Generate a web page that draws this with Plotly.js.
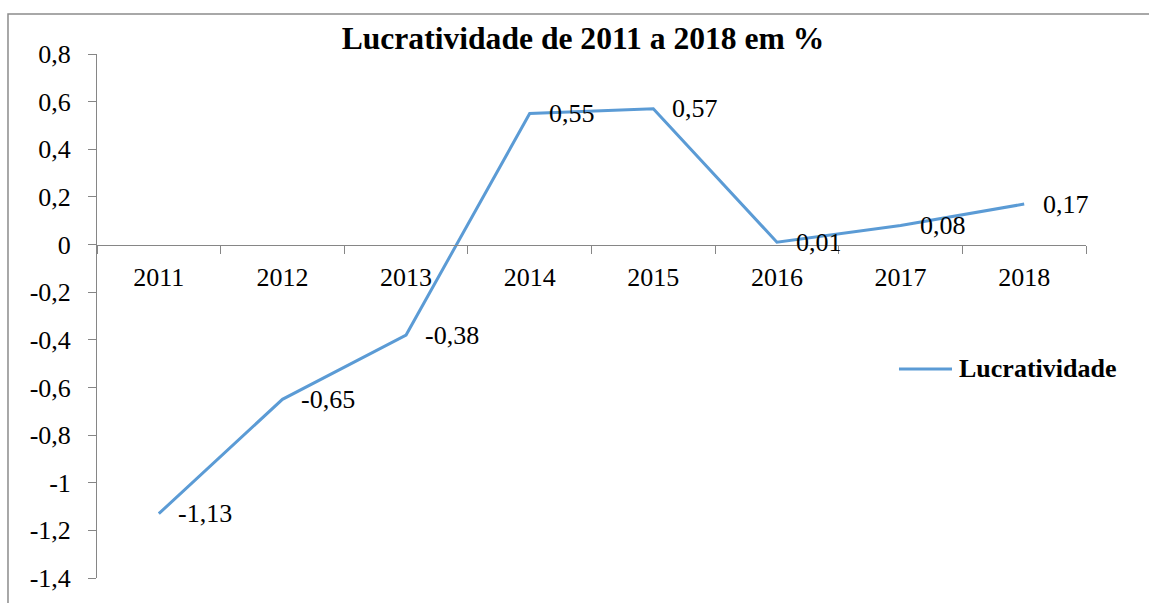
<!DOCTYPE html>
<html>
<head>
<meta charset="utf-8">
<script src="https://cdn.plot.ly/plotly-3.0.1.min.js"></script>
<style>
  html, body { margin: 0; padding: 0; background: #fff; }
  #chart { width: 1149px; height: 603px; }
</style>
</head>
<body>
<div id="chart"></div>
<script>
// ---- data ----
const years = ["2011", "2012", "2013", "2014", "2015", "2016", "2017", "2018"];
const lucratividade = [-1.13, -0.65, -0.38, 0.55, 0.57, 0.01, 0.08, 0.17];
const seriesName = "Lucratividade";
const chartTitle = "Lucratividade de 2011 a 2018 em %";
const yTickVals = [0.8, 0.6, 0.4, 0.2, 0, -0.2, -0.4, -0.6, -0.8, -1, -1.2, -1.4];
const yTickText = ["0,8", "0,6", "0,4", "0,2", "0", "-0,2", "-0,4", "-0,6", "-0,8", "-1", "-1,2", "-1,4"];

// ---- styles ----
const serif = "Liberation Serif, Times New Roman, serif";
const lineColor = "#5B9BD5";
const axisColor = "#868686";
const yMin = -1.4, yMax = 0.8;

function fmt(v) { return v.toFixed(2).replace(".", ","); }

const trace = {
  type: "scatter",
  mode: "lines",
  x: years,
  y: lucratividade,
  name: seriesName,
  line: { color: lineColor, width: 3 },
  showlegend: false,
  hoverinfo: "x+y"
};

// category index used as annotation x (numeric-looking category names would be read as indices)
const labelAnnotations = years.map((yr, i) => ({
  x: i, y: lucratividade[i], xref: "x", yref: "y",
  text: fmt(lucratividade[i]),
  showarrow: false, xanchor: "left", yanchor: "middle", xshift: 17,
  font: { family: serif, size: 26, color: "#000" }
}));

const legendAnnotation = {
  xref: "paper", yref: "paper", x: 0.8696, y: 0.3989,
  text: "<b>" + seriesName + "</b>", showarrow: false,
  xanchor: "left", yanchor: "middle",
  font: { family: serif, size: 26, color: "#000" }
};

const layout = {
  width: 1149, height: 603,
  margin: { l: 97, r: 63, t: 54, b: 25, pad: 0 },
  paper_bgcolor: "#fff", plot_bgcolor: "#fff",
  separators: ", ",
  title: {
    text: "<b>" + chartTitle + "</b>",
    xref: "container", yref: "container",
    x: 0.5074, xanchor: "center", y: 0.937, yanchor: "middle",
    font: { family: serif, size: 31.6, color: "#000" }
  },
  xaxis: {
    type: "category",
    range: [-0.5, 7.5],
    anchor: "free",
    position: (0 - yMin) / (yMax - yMin),
    showline: true, linecolor: axisColor, linewidth: 1,
    ticks: "outside", ticklen: 8, tickcolor: axisColor, tickwidth: 1,
    tickson: "boundaries",
    ticklabelstandoff: 9,
    showgrid: false, zeroline: false,
    tickfont: { family: serif, size: 26, color: "#000" },
    fixedrange: true
  },
  yaxis: {
    range: [yMin, yMax],
    tickvals: yTickVals, ticktext: yTickText,
    showline: true, linecolor: axisColor, linewidth: 1,
    ticks: "outside", ticklen: 8, tickcolor: axisColor, tickwidth: 1,
    ticklabelstandoff: 12,
    showgrid: false, zeroline: false,
    tickfont: { family: serif, size: 26, color: "#000" },
    fixedrange: true
  },
  shapes: [
    { type: "rect", xref: "paper", yref: "paper",
      x0: -0.09, x1: 1.2, y0: -0.1, y1: 1.0763,
      line: { color: "#8c8c8c", width: 1.5 }, layer: "below" },
    { type: "line", xref: "paper", yref: "paper",
      x0: 0.8109, x1: 0.8645, y0: 0.3989, y1: 0.3989,
      line: { color: lineColor, width: 3 } }
  ],
  annotations: labelAnnotations.concat([legendAnnotation]),
  showlegend: false
};

Plotly.newPlot("chart", [trace], layout, { displayModeBar: false, staticPlot: true });
</script>
</body>
</html>
